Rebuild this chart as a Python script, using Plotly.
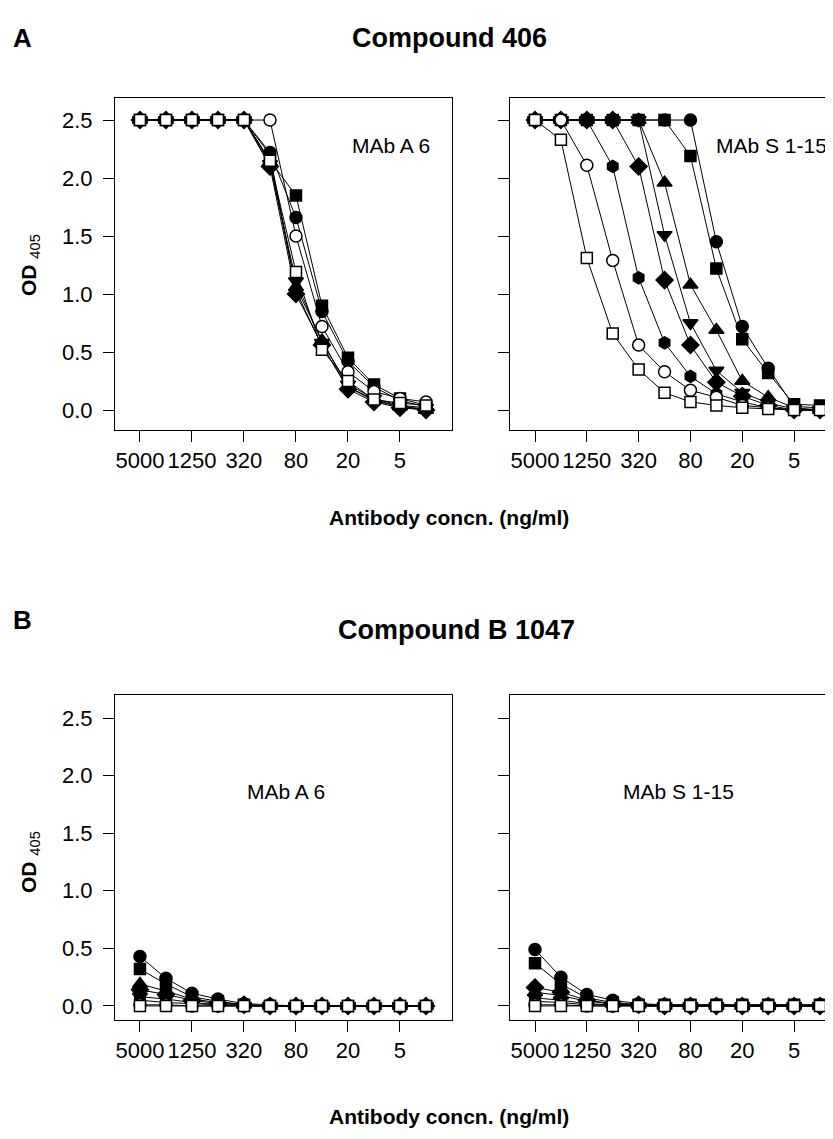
import plotly.graph_objects as go

# antibody dilution series (ng/ml), one point per well
conc = ["5000", "2500", "1250", "625", "320", "160", "80", "40", "20", "10", "5", "2.5"]
tick_conc = ["5000", "1250", "320", "80", "20", "5"]
od_ticks = [0.0, 0.5, 1.0, 1.5, 2.0, 2.5]

# Compound 406, MAb A 6
a6_406 = {
    "filled_circle": [2.5, 2.5, 2.5, 2.5, 2.5, 2.22, 1.66, 0.85, 0.42, 0.20, 0.08, 0.03],
    "filled_square": [2.5, 2.5, 2.5, 2.5, 2.5, 2.15, 1.85, 0.90, 0.45, 0.22, 0.10, 0.04],
    "tri_up":        [2.5, 2.5, 2.5, 2.5, 2.5, 2.14, 1.06, 0.60, 0.20, 0.09, 0.03, 0.00],
    "diamond":       [2.5, 2.5, 2.5, 2.5, 2.5, 2.10, 1.00, 0.56, 0.18, 0.07, 0.02, 0.00],
    "tri_down":      [2.5, 2.5, 2.5, 2.5, 2.5, 2.12, 1.11, 0.58, 0.22, 0.10, 0.04, 0.02],
    "hexagon":       [2.5, 2.5, 2.5, 2.5, 2.5, 2.20, 1.03, 0.55, 0.20, 0.08, 0.03, 0.01],
    "open_circle":   [2.5, 2.5, 2.5, 2.5, 2.5, 2.50, 1.50, 0.72, 0.33, 0.16, 0.10, 0.07],
    "open_square":   [2.5, 2.5, 2.5, 2.5, 2.5, 2.15, 1.19, 0.52, 0.25, 0.09, 0.06, 0.04],
}

# Compound 406, MAb S 1-15
s115_406 = {
    "filled_circle": [2.5, 2.5, 2.5, 2.5, 2.5, 2.5, 2.50, 1.45, 0.72, 0.36, 0.03, 0.02],
    "filled_square": [2.5, 2.5, 2.5, 2.5, 2.5, 2.5, 2.19, 1.22, 0.61, 0.32, 0.05, 0.04],
    "tri_up":        [2.5, 2.5, 2.5, 2.5, 2.5, 1.96, 1.08, 0.69, 0.25, 0.11, 0.02, 0.00],
    "tri_down":      [2.5, 2.5, 2.5, 2.5, 2.5, 1.51, 0.75, 0.34, 0.15, 0.06, 0.01, 0.00],
    "diamond":       [2.5, 2.5, 2.5, 2.5, 2.10, 1.12, 0.56, 0.24, 0.12, 0.04, 0.00, 0.00],
    "hexagon":       [2.5, 2.5, 2.5, 2.10, 1.14, 0.58, 0.29, 0.14, 0.07, 0.02, 0.00, 0.00],
    "open_circle":   [2.5, 2.5, 2.11, 1.29, 0.56, 0.33, 0.17, 0.11, 0.04, 0.02, 0.00, 0.00],
    "open_square":   [2.5, 2.33, 1.31, 0.66, 0.35, 0.15, 0.07, 0.04, 0.02, 0.01, 0.00, 0.00],
}

# Compound B 1047, MAb A 6
a6_b1047 = {
    "filled_circle": [0.43, 0.24, 0.11, 0.06, 0.02, 0.01, 0, 0, 0, 0, 0, 0],
    "filled_square": [0.32, 0.19, 0.08, 0.04, 0.01, 0, 0, 0, 0, 0, 0, 0],
    "tri_up":        [0.19, 0.13, 0.06, 0.03, 0.01, 0, 0, 0, 0, 0, 0, 0],
    "diamond":       [0.14, 0.10, 0.05, 0.02, 0.01, 0, 0, 0, 0, 0, 0, 0],
    "tri_down":      [0.08, 0.06, 0.03, 0.01, 0, 0, 0, 0, 0, 0, 0, 0],
    "hexagon":       [0.05, 0.03, 0.02, 0.01, 0, 0, 0, 0, 0, 0, 0, 0],
    "open_circle":   [0.01, 0.01, 0, 0, 0, 0, 0, 0, 0, 0, 0, 0],
    "open_square":   [0, 0, 0, 0, 0, 0, 0, 0, 0, 0, 0, 0],
}

# Compound B 1047, MAb S 1-15
s115_b1047 = {
    "filled_circle": [0.49, 0.25, 0.10, 0.05, 0.02, 0.01, 0.01, 0.01, 0.01, 0.01, 0.01, 0.01],
    "filled_square": [0.37, 0.19, 0.07, 0.03, 0.01, 0.01, 0.01, 0.01, 0.01, 0.01, 0.01, 0.01],
    "diamond":       [0.16, 0.12, 0.05, 0.02, 0.01, 0, 0, 0, 0, 0, 0, 0],
    "tri_up":        [0.12, 0.09, 0.04, 0.02, 0.01, 0, 0, 0, 0, 0, 0, 0],
    "tri_down":      [0.07, 0.05, 0.02, 0.01, 0, 0, 0, 0, 0, 0, 0, 0],
    "hexagon":       [0.04, 0.03, 0.01, 0.01, 0, 0, 0, 0, 0, 0, 0, 0],
    "open_circle":   [0.01, 0.01, 0, 0, 0, 0, 0, 0, 0, 0, 0, 0],
    "open_square":   [0, 0, 0, 0, 0, 0, 0, 0, 0, 0, 0, 0],
}

# marker look: symbol, fill, size
styles = {
    "filled_circle": ("circle", "black", 12),
    "filled_square": ("square", "black", 11),
    "tri_up": ("triangle-up", "black", 13),
    "diamond": ("diamond", "black", 13),
    "tri_down": ("triangle-down", "black", 13),
    "hexagon": ("hexagon", "black", 12),
    "open_circle": ("circle", "white", 12),
    "open_square": ("square", "white", 11),
}
draw_order = ["filled_circle", "filled_square", "tri_up", "diamond", "tri_down",
              "hexagon", "open_circle", "open_square"]

W, H = 833, 1139
FONT = "Liberation Sans, Arial, sans-serif"


def py(px):
    return 1 - px / H


fig = go.Figure()

panels = [
    (a6_406, "x", "y"),
    (s115_406, "x2", "y2"),
    (a6_b1047, "x3", "y3"),
    (s115_b1047, "x4", "y4"),
]
for data, xa, ya in panels:
    for key in draw_order:
        sym, fill, size = styles[key]
        fig.add_trace(go.Scatter(
            x=conc, y=data[key], xaxis=xa, yaxis=ya, mode="lines+markers",
            line=dict(color="black", width=1),
            marker=dict(symbol=sym, color=fill, size=size,
                        line=dict(color="black", width=1.5)),
            showlegend=False, hoverinfo="skip"))

xcommon = dict(type="category", categoryorder="array", categoryarray=conc,
               tickvals=tick_conc, ticktext=tick_conc, ticks="outside", ticklen=11,
               tickcolor="black", showline=True, linecolor="black", linewidth=1,
               mirror=True, showgrid=False, zeroline=False,
               tickfont=dict(family=FONT, size=22, color="black"))
ycommon = dict(tickvals=od_ticks, ticks="outside", ticklen=11, tickcolor="black",
               showline=True, linecolor="black", linewidth=1, showgrid=False,
               zeroline=False, tickformat=".1f", ticklabelstandoff=6,
               tickfont=dict(family=FONT, size=22, color="black"))

left_dom = [107 / W, 444 / W]
right_dom = [502 / W, 1.0]
top_dom = [py(422), py(90)]
bot_dom = [py(1012), py(687)]

fig.update_layout(
    width=W, height=H, margin=dict(l=0, r=0, t=0, b=0),
    paper_bgcolor="white", plot_bgcolor="white",
    xaxis=dict(xcommon, domain=left_dom, range=[-0.96, 12.0], anchor="y"),
    xaxis2=dict(xcommon, domain=right_dom, range=[-0.965, 11.81], anchor="y2"),
    xaxis3=dict(xcommon, domain=left_dom, range=[-0.96, 12.0], anchor="y3"),
    xaxis4=dict(xcommon, domain=right_dom, range=[-0.965, 11.81], anchor="y4"),
    yaxis=dict(ycommon, domain=top_dom, range=[-0.172, 2.69], anchor="x", mirror=True),
    yaxis2=dict(ycommon, domain=top_dom, range=[-0.172, 2.69], anchor="x2",
                showticklabels=False),
    yaxis3=dict(ycommon, domain=bot_dom, range=[-0.122, 2.70], anchor="x3", mirror=True),
    yaxis4=dict(ycommon, domain=bot_dom, range=[-0.122, 2.70], anchor="x4",
                showticklabels=False),
)

notes = [
    ("<b>A</b>", 14, 30, 26),
    ("<b>Compound 406</b>", 441, 30, 27),
    ("<b>Antibody concn. (ng/ml)</b>", 441, 510, 21),
    ("<b>B</b>", 14, 612, 26),
    ("<b>Compound B 1047</b>", 448, 622, 27),
    ("<b>Antibody concn. (ng/ml)</b>", 441, 1108, 21),
]
for text, x, y, size in notes:
    fig.add_annotation(text=text, x=x / W, y=py(y), xref="paper", yref="paper",
                       showarrow=False, xanchor="center", yanchor="middle",
                       font=dict(family=FONT, size=size, color="black"))

for y in (257, 854):
    fig.add_annotation(text="<b>OD</b> <sub>405</sub>", x=22 / W, y=py(y),
                       xref="paper", yref="paper", showarrow=False, textangle=-90,
                       xanchor="center", yanchor="middle",
                       font=dict(family=FONT, size=21, color="black"))

# antibody names inside the panels
mab = [
    ("MAb A 6", 383, 137),
    ("MAb S 1-15", 763, 137),
    ("MAb A 6", 278, 783),
    ("MAb S 1-15", 670, 783),
]
for text, x, y in mab:
    fig.add_annotation(text=text, x=x / W, y=py(y), xref="paper", yref="paper",
                       showarrow=False, xanchor="center", yanchor="middle",
                       font=dict(family=FONT, size=21, color="black"))

fig.write_html("out.html")
